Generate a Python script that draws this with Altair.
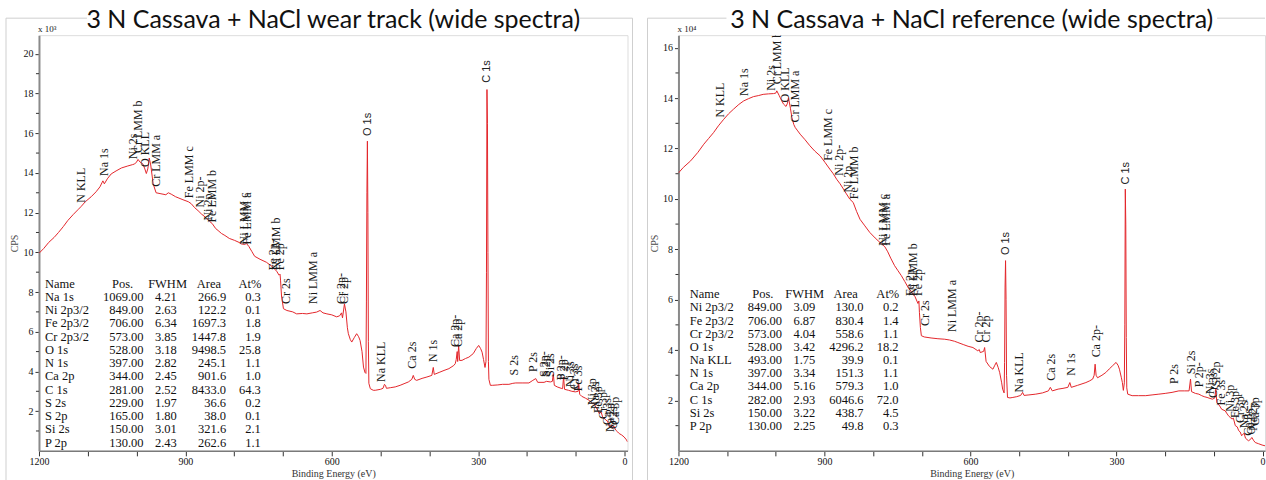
import altair as alt
import pandas as pd

# ---------------- wear track spectrum (CPS x10^3) ----------------
wt_be = [1200, 1190, 1180, 1169, 1160, 1150, 1141, 1130, 1120, 1114, 1105, 1093, 1083, 1075, 1071, 1069,
         1066, 1060, 1052, 1042, 1031, 1018, 1008, 1004, 1000, 997, 993, 987, 983, 980, 977, 974, 971,
         966, 960, 950, 940, 935, 929, 920, 915, 905, 894, 888, 881, 874, 867, 858, 850, 845, 838, 833,
         826, 819, 810, 799, 790, 785, 778, 775, 770, 764, 758, 747, 734, 723, 713, 708, 706, 705, 703,
         699, 692, 680, 672, 660, 651, 640, 631, 624, 618, 610, 600, 590, 584, 580, 578, 574, 571, 568,
         566, 562, 559, 554, 549, 545, 542, 538, 535, 532, 530, 529, 528, 527, 526, 525, 524, 521, 515,
         511, 500, 495, 492, 490, 488, 480, 470, 460, 450, 443, 436, 433, 430, 426, 415, 405, 395, 392,
         390, 380, 370, 360, 350, 347, 345, 343, 342, 340, 338, 333, 326, 319, 310, 304, 299, 295, 292,
         289, 286, 284, 283, 282, 281, 280, 279, 278, 275, 271, 260, 250, 237, 229, 223, 210, 196, 188,
         182, 178, 165, 160, 152, 148, 146, 144, 138, 130, 127, 125, 123, 115, 108, 101, 95, 94, 92, 88,
         80, 73, 66, 63, 59, 55, 52, 48, 45, 40, 38, 35, 31, 27, 25, 22, 18, 14, 11, 6, 1, -4, -6]
wt_cps = [9.95, 10.2, 10.5, 10.75, 11.0, 11.3, 11.6, 11.9, 12.15, 12.3, 12.55, 12.8, 13.05, 13.3, 13.5, 13.6,
          13.45, 13.7, 13.95, 14.1, 14.25, 14.35, 14.42, 14.45, 14.55, 14.68, 14.55, 14.45, 14.2, 13.97, 14.2, 14.75, 14.4,
          13.45, 13.0, 12.95, 12.9, 13.0, 12.93, 12.8, 12.75, 12.65, 12.55, 12.45, 12.25, 12.1, 11.93, 11.75, 11.55, 11.45, 11.2, 11.1,
          10.95, 10.85, 10.7, 10.6, 10.5, 10.42, 10.4, 10.45, 10.3, 10.05, 9.8, 9.65, 9.5, 9.3, 9.05, 8.85, 8.9, 8.6, 7.8,
          7.16, 7.07, 7.0, 6.9, 6.92, 6.9, 6.95, 6.99, 7.07, 6.95, 6.9, 6.85, 6.75, 6.8, 6.95, 6.7, 7.4, 7.0, 6.2,
          5.9, 5.6, 5.48, 5.7, 5.9, 5.75, 5.56, 5.0, 4.22, 3.95, 3.9, 7.5, 13.0, 15.6, 12.0, 5.5, 3.4, 3.13, 3.05,
          3.05, 3.1, 3.15, 3.35, 3.3, 3.15, 3.18, 3.22, 3.3, 3.4, 3.47, 3.6, 3.8, 3.6, 3.55, 3.65, 3.72, 3.8, 4.2,
          3.85, 3.95, 4.05, 4.14, 4.3, 4.39, 4.6, 5.0, 4.5, 5.3, 4.55, 4.56, 4.65, 4.72, 4.9, 5.15, 5.31, 5.15, 4.97,
          4.6, 4.2, 4.5, 9.0, 18.2, 16.5, 10.0, 4.5, 3.6, 3.3, 3.3, 3.32, 3.35, 3.35, 3.4, 3.42, 3.42, 3.42, 3.55,
          3.64, 3.45, 3.45, 3.5, 3.47, 3.5, 3.89, 3.3, 3.22, 3.15, 3.13, 3.72, 3.1, 3.05, 3.0, 2.97, 3.0, 3.39, 2.85, 2.75,
          2.65, 2.55, 2.38, 2.4, 2.21, 2.05, 1.88, 1.95, 1.71, 1.6, 1.54, 1.5, 1.21, 1.3, 1.13, 1.25, 1.04, 0.95, 0.87, 0.8, 0.7, 0.55, 0.45]

# ---------------- reference spectrum (CPS x10^4) ----------------
ref_be = [1200, 1190, 1175, 1160, 1148, 1138, 1128, 1118, 1107, 1097, 1087, 1076, 1066, 1056, 1046, 1036,
          1026, 1015, 1005, 1000, 998, 993, 988, 984, 979, 976, 974, 970, 967, 963, 960, 955, 950, 940,
          930, 920, 909, 899, 889, 882, 875, 868, 861, 855, 848, 841, 834, 827, 817, 807, 796, 786, 776,
          770, 764, 756, 749, 742, 735, 728, 721, 714, 708, 706, 705, 703, 701, 695, 681, 667, 653, 643,
          633, 626, 615, 605, 595, 585, 582, 580, 573, 571, 568, 561, 554, 550, 547, 543, 540, 536, 534,
          531, 530, 529, 528, 527, 526, 524, 519, 513, 505, 497, 493, 490, 480, 466, 452, 440, 436, 432,
          420, 410, 400, 396, 393, 380, 363, 355, 349, 346, 344, 342, 339, 330, 322, 315, 308, 301, 297,
          294, 290, 288, 286, 284, 283, 282, 281, 280, 279, 277, 268, 255, 240, 227, 213, 200, 186, 172,
          160, 151, 148, 146, 138, 131, 125, 120, 114, 108, 103, 98, 96, 94, 88, 84, 77, 70, 66, 63, 60,
          56, 52, 49, 46, 43, 38, 35, 29, 25, 22, 18, 15, 8, 1, -5]
ref_cps = [11.03, 11.25, 11.51, 11.85, 12.17, 12.4, 12.63, 12.9, 13.16, 13.38, 13.56, 13.75, 13.89, 13.98, 14.06, 14.1,
           14.15, 14.17, 14.18, 14.2, 14.29, 14.1, 13.9, 13.76, 13.67, 13.8, 14.02, 13.6, 13.23, 12.95, 12.83, 12.7, 12.57, 12.35,
           12.11, 11.9, 11.71, 11.45, 11.18, 11.0, 10.78, 10.6, 10.39, 10.2, 9.99, 9.86, 9.5, 9.19, 8.93, 8.67, 8.45, 8.27, 8.1,
           7.9, 7.65, 7.35, 7.15, 6.95, 6.72, 6.48, 6.3, 6.12, 5.85, 5.95, 5.5, 4.9, 4.57, 4.52, 4.48, 4.45, 4.43, 4.4,
           4.35, 4.3, 4.22, 4.15, 4.1, 3.97, 4.02, 3.9, 3.95, 4.1, 3.55, 3.35, 3.24, 3.4, 3.51, 3.3, 3.1, 2.7, 2.45,
           2.3, 3.5, 6.5, 7.55, 6.0, 3.0, 2.12, 2.1, 2.12, 2.15, 2.2, 2.32, 2.2, 2.22, 2.25, 2.3, 2.38, 2.52, 2.38,
           2.45, 2.48, 2.52, 2.71, 2.52, 2.6, 2.71, 2.78, 2.85, 3.0, 3.44, 3.0, 2.9, 3.0, 3.11, 3.25, 3.38, 3.51, 3.4,
           3.24, 2.9, 2.71, 2.4, 2.7, 5.0, 10.39, 9.0, 4.5, 2.5, 2.25, 2.19, 2.19, 2.19, 2.22, 2.25, 2.28, 2.32, 2.38,
           2.38, 2.38, 2.85, 2.35, 2.28, 2.25, 2.19, 2.15, 2.12, 2.08, 2.05, 2.1, 2.45, 1.92, 1.78, 1.65, 1.59, 1.39, 1.32, 1.26, 1.3,
           1.0, 0.95, 0.8, 0.75, 0.6, 0.7, 0.5, 0.4, 0.45, 0.53, 0.4, 0.33, 0.28, 0.23, 0.2]

# ---------------- peak labels ----------------
wt_lab_text = ["N KLL", "Na 1s", "Ni 2s", "Cr LMM b", "O KLL", "Cr LMM a", "Fe LMM c", "Ni 2p-", "Ni 2p",
               "Fe LMM b", "Ni LMM c", "Fe LMM a", "Fe 2p-", "Ni LMM b", "Fe 2p", "Cr 2s", "Ni LMM a",
               "Cr 2p-", "Cr 2p", "Na KLL", "Ca 2s", "N 1s", "Ca 2p-", "Ca 2p", "S 2s", "P 2s", "S 2p-",
               "S 2p", "Si 2s", "P 2p-", "P 2p", "Ni 3s", "Cr 3s", "Fe 3s", "Ni 3p", "Na 2s", "Fe 3p",
               "Cr 3p", "Ca 3s", "Na 2p", "O 2s", "Ca 3p"]
wt_lab_be = [1114, 1067, 1008, 998, 983, 960, 892, 870, 853, 845, 779, 774, 721, 714, 706, 694, 638,
             582, 574, 500, 435, 393, 348, 341, 227, 188, 166, 160, 152, 131, 125, 111, 104, 96, 66, 60, 54,
             44, 36, 30, 24, 19]
wt_lab_y = [12.5, 13.85, 14.69, 15.0, 14.3, 13.3, 12.73, 12.26, 11.6, 11.5, 10.4, 10.4, 9.1, 9.1, 9.1, 7.4, 7.4,
            7.4, 7.4, 3.47, 4.14, 4.47, 5.23, 5.23, 3.8, 3.97, 3.72, 3.72, 3.72, 3.55, 3.55, 3.22, 3.1, 3.0,
            2.3, 2.1, 1.9, 1.6, 1.3, 0.95, 1.1, 1.3]
wt_pk_text = ["O 1s", "C 1s"]
wt_pk_be = [526, 281]
wt_pk_y = [15.86, 18.54]

ref_lab_text = ["N KLL", "Na 1s", "Ni 2s", "Cr LMM b", "O KLL", "Cr LMM a", "Fe LMM c", "Ni 2p-", "Ni 2p",
                "Fe LMM b", "Ni LMM c", "Fe LMM a", "Fe 2p-", "Ni LMM b", "Fe 2p", "Cr 2s", "Ni LMM a",
                "Cr 2p-", "Cr 2p", "Na KLL", "Ca 2s", "N 1s", "Ca 2p-", "P 2s", "Si 2s", "P 2p-", "Ni 3s",
                "Cr 3s", "Si 2p", "Fe 3s", "Ni 3p", "Fe 3p", "Cr 3p", "Na 2s", "Ca 3s", "O 2s", "Na 2p", "Ca 3p"]
ref_lab_be = [1114, 1066, 1010, 998, 981, 960, 892, 870, 851, 840, 780, 774, 725, 718, 708, 694, 638,
              583, 569, 500, 435, 394, 343, 182, 147, 130, 109, 102, 96, 86, 66, 56, 46, 39, 29, 24, 20, 15]
ref_lab_y = [13.23, 14.09, 14.29, 14.55, 13.83, 13.03, 11.51, 10.92, 10.25, 9.99, 8.14, 8.14, 6.15, 6.15, 6.15,
             4.96, 4.72, 4.3, 4.3, 2.32, 2.78, 2.98, 3.71, 2.65, 3.04, 2.52, 2.25, 2.1, 2.55, 1.8, 1.55, 1.3,
             1.1, 0.9, 0.6, 0.65, 0.8, 1.0]
ref_pk_text = ["O 1s", "C 1s"]
ref_pk_be = [527, 280]
ref_pk_y = [7.77, 10.57]

# ---------------- quantification tables ----------------
wt_names = ["Na 1s", "Ni 2p3/2", "Fe 2p3/2", "Cr 2p3/2", "O 1s", "N 1s", "Ca 2p", "C 1s", "S 2s", "S 2p", "Si 2s", "P 2p"]
wt_pos = [1069.00, 849.00, 706.00, 573.00, 528.00, 397.00, 344.00, 281.00, 229.00, 165.00, 150.00, 130.00]
wt_fwhm = [4.21, 2.63, 6.34, 3.85, 3.18, 2.82, 2.45, 2.52, 1.97, 1.80, 3.01, 2.43]
wt_area = [266.9, 122.2, 1697.3, 1447.8, 9498.5, 245.1, 901.6, 8433.0, 36.6, 38.0, 321.6, 262.6]
wt_at = [0.3, 0.1, 1.8, 1.9, 25.8, 1.1, 1.0, 64.3, 0.2, 0.1, 2.1, 1.1]

ref_names = ["Ni 2p3/2", "Fe 2p3/2", "Cr 2p3/2", "O 1s", "Na KLL", "N 1s", "Ca 2p", "C 1s", "Si 2s", "P 2p"]
ref_pos = [849.00, 706.00, 573.00, 528.00, 493.00, 397.00, 344.00, 282.00, 150.00, 130.00]
ref_fwhm = [3.09, 6.87, 4.04, 3.42, 1.75, 3.34, 5.16, 2.93, 3.22, 2.25]
ref_area = [130.0, 830.4, 558.6, 4296.2, 39.9, 151.3, 579.3, 6046.6, 438.7, 49.8]
ref_at = [0.2, 1.4, 1.1, 18.2, 0.1, 1.1, 1.0, 72.0, 4.5, 0.3]

headers = ["Name", "Pos.", "FWHM", "Area", "At%"]

SERIF = "Liberation Serif"
SANS = "Liberation Sans"
RED = "#e3262b"
H = 416


def panel(title, exp_txt, be, cps, lab_t, lab_x, lab_y, pk_t, pk_x, pk_y,
          names, pos, fwhm, area, at, ymax, ytop, width, xmin, geo, frame_x0, frame_right):
    xs = alt.Scale(domain=[1200, xmin], nice=False, zero=False)
    ys = alt.Scale(domain=[0, ymax], nice=False, zero=False)
    XT = "Binding Energy (eV)"
    YT = "CPS"

    def X(axis=None):
        if axis is None:
            return alt.X("be:Q", scale=xs, title=XT)
        return alt.X("be:Q", scale=xs, title=XT, axis=axis)

    def Y(axis=None):
        if axis is None:
            return alt.Y("cps:Q", scale=ys, title=YT)
        return alt.Y("cps:Q", scale=ys, title=YT, axis=axis)

    xaxis = alt.Axis(values=list(range(0, 1201, 100)), format="d",
                     labelExpr="datum.value % 300 === 0 ? datum.label : ''",
                     tickSize=5, tickColor="#333", domainColor="#7a7a7a", domainWidth=1.5,
                     labelFont=SERIF, labelFontSize=10, labelColor="#111", labelPadding=1,
                     labelFlush=False, labelOverlap=False, grid=False,
                     titleFont=SERIF, titleFontSize=10, titleFontWeight="normal",
                     titleColor="#333", titlePadding=2)
    yaxis = alt.Axis(values=list(range(2, ytop + 1, 2)), format="d",
                     tickSize=4, tickColor="#333", domainColor="#8a8a8a", domainWidth=2,
                     labelFont=SERIF, labelFontSize=10, labelColor="#111", labelPadding=2,
                     labelFlush=False, labelOverlap=False, grid=False,
                     titleFont=SERIF, titleFontSize=10, titleFontWeight="normal",
                     titleColor="#4a4a4a", titlePadding=3)

    spec = pd.DataFrame({"be": be, "cps": cps})
    line = alt.Chart(spec).mark_line(color=RED, strokeWidth=1, clip=True).encode(
        x=X(xaxis), y=Y(yaxis))

    minor = alt.Chart(pd.DataFrame({"cps": list(range(1, ytop + 1, 2))})).mark_rule(
        color="#333", strokeWidth=1).encode(y=Y(), x=alt.value(-3), x2=alt.value(0))

    labs = alt.Chart(pd.DataFrame({"be": lab_x, "cps": lab_y, "t": lab_t})).mark_text(
        angle=270, align="left", baseline="middle", font=SERIF, fontSize=12,
        color="#1a1a1a", clip=True).encode(x=X(), y=Y(), text="t:N")

    pks = alt.Chart(pd.DataFrame({"be": pk_x, "cps": pk_y, "t": pk_t})).mark_text(
        angle=270, align="left", baseline="middle", font=SANS, fontSize=11,
        color="#222", clip=True).encode(x=X(), y=Y(), text="t:N")

    # table
    name_x, right_xs, head_xs, head_y, dy = geo
    n = len(names)
    rows_y = [head_y + dy * (i + 1) for i in range(n)]
    cols = [
        [f"{v:.2f}" for v in pos],
        [f"{v:.2f}" for v in fwhm],
        [f"{v:.1f}" for v in area],
        [f"{v:.1f}" for v in at],
    ]
    tlayers = []
    tfont = dict(font=SERIF, fontSize=12.5, color="#111", baseline="middle")
    tlayers.append(alt.Chart(pd.DataFrame({"t": names, "py": rows_y})).mark_text(
        align="left", **tfont).encode(x=alt.value(name_x), y=alt.Y("py:Q", scale=None), text="t:N"))
    for cx, col in zip(right_xs, cols):
        tlayers.append(alt.Chart(pd.DataFrame({"t": col, "py": rows_y})).mark_text(
            align="right", **tfont).encode(x=alt.value(cx), y=alt.Y("py:Q", scale=None), text="t:N"))
    tlayers.append(alt.Chart(pd.DataFrame({"t": headers[:1], "py": [head_y]})).mark_text(
        align="left", **tfont).encode(x=alt.value(name_x), y=alt.Y("py:Q", scale=None), text="t:N"))
    for hx, h in zip(head_xs, headers[1:]):
        tlayers.append(alt.Chart(pd.DataFrame({"t": [h], "py": [head_y]})).mark_text(
            align="center", **tfont).encode(x=alt.value(hx), y=alt.Y("py:Q", scale=None), text="t:N"))

    one = pd.DataFrame({"a": [0]})
    ttl = alt.Chart(pd.DataFrame({"t": [title]})).mark_text(
        font="Lato", fontSize=25, color="#111", align="center", baseline="alphabetic").encode(
        x=alt.value(width / 2), y=alt.value(-7), text="t:N")
    expo = alt.Chart(pd.DataFrame({"t": [exp_txt]})).mark_text(
        font=SERIF, fontSize=9, color="#222", align="left", baseline="bottom").encode(
        x=alt.value(-1), y=alt.value(-1), text="t:N")

    # light outer frame (top split around title, left side, optional right side)
    fr = []
    fr.append(alt.Chart(one).mark_rule(color="#cfcfcf", strokeWidth=1).encode(
        x=alt.value(frame_x0), x2=alt.value(48), y=alt.value(-17)))
    fr.append(alt.Chart(one).mark_rule(color="#cfcfcf", strokeWidth=1).encode(
        x=alt.value(width - 48), x2=alt.value(frame_right if frame_right else width), y=alt.value(-17)))
    fr.append(alt.Chart(one).mark_rule(color="#cfcfcf", strokeWidth=1).encode(
        x=alt.value(frame_x0), y=alt.value(-17), y2=alt.value(446)))
    if frame_right:
        fr.append(alt.Chart(one).mark_rule(color="#cfcfcf", strokeWidth=1).encode(
            x=alt.value(frame_right), y=alt.value(-17), y2=alt.value(446)))
    anchor = alt.Chart(one).mark_rule(opacity=0).encode(
        x=alt.value(-38), x2=alt.value(-37), y=alt.value(-34), y2=alt.value(-33))

    return alt.layer(line, minor, labs, pks, *tlayers, ttl, expo, *fr, anchor).properties(
        width=width, height=H)


left = panel("3 N Cassava + NaCl wear track (wide spectra)", "x 10\u00b3",
             wt_be, wt_cps, wt_lab_text, wt_lab_be, wt_lab_y, wt_pk_text, wt_pk_be, wt_pk_y,
             wt_names, wt_pos, wt_fwhm, wt_area, wt_at, 20.94, 20, 589, -6,
             (6, [104.7, 138, 187.3, 222], [83.7, 128.7, 170, 211.2], 248.7, 13.25), -33, 594)
right = panel("3 N Cassava + NaCl reference (wide spectra)", "x 10\u2074",
              ref_be, ref_cps, ref_lab_text, ref_lab_be, ref_lab_y, ref_pk_text, ref_pk_be, ref_pk_y,
              ref_names, ref_pos, ref_fwhm, ref_area, ref_at, 16.5, 16, 587, -5,
              (11.3, [103.7, 137, 185.3, 220.3], [84.5, 126.3, 167.3, 209.5], 259.3, 13.17), -31, 0)

chart = alt.hconcat(left, right, spacing=51, bounds="flush").properties(
    padding={"left": 0, "top": 0, "right": 0, "bottom": 0}
).configure_view(stroke="#5a5a5a", strokeWidth=1).configure(background="white")

chart.save("out.html", embed_options={"renderer": "svg", "actions": False})
